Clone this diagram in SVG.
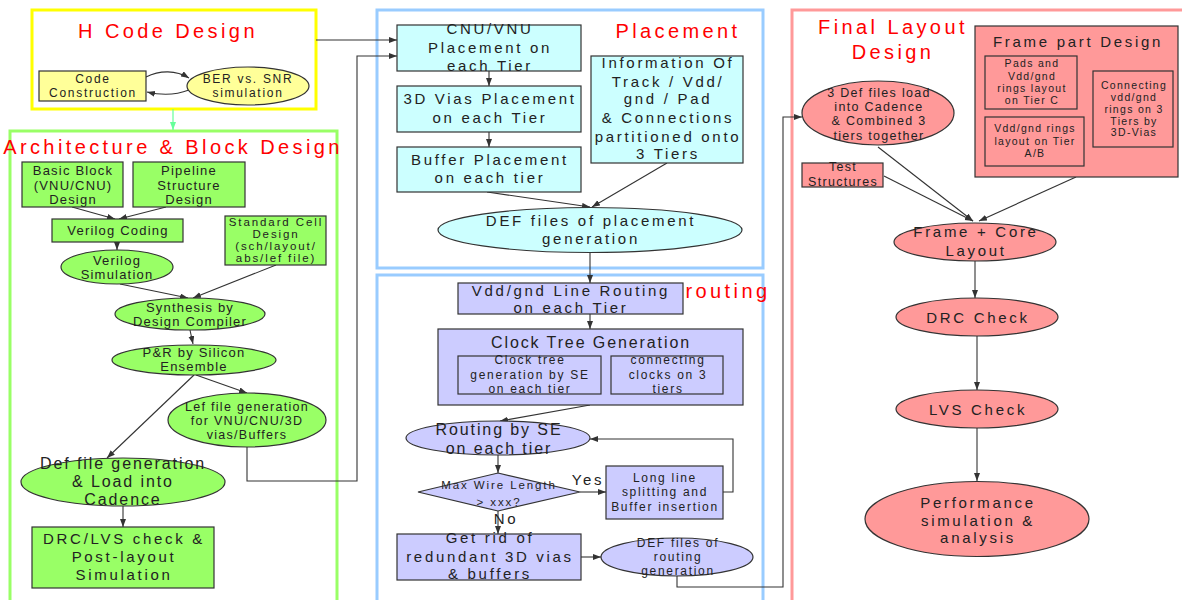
<svg xmlns="http://www.w3.org/2000/svg" width="1182" height="600" viewBox="0 0 1182 600">
<defs>
<marker id="ah" markerWidth="9" markerHeight="7" refX="8" refY="3" orient="auto" markerUnits="userSpaceOnUse"><path d="M0,0 L8,3 L0,6 z" fill="#333"/></marker>
<marker id="ahg" markerWidth="9" markerHeight="7" refX="8" refY="3" orient="auto" markerUnits="userSpaceOnUse"><path d="M0,0 L8,3 L0,6 z" fill="#66ff99"/></marker>
<style>
text{font-family:"Liberation Sans",Arial,sans-serif;fill:#222;text-anchor:middle}
.title{font-size:20px;fill:#ff0000;letter-spacing:3.4px}
.sec{fill:none;stroke-width:3}
.nd{stroke:#333;stroke-width:1.2}
.yel{fill:#ffff99}
.grn{fill:#99ff66}
.cyn{fill:#ccffff}
.lav{fill:#ccccff}
.pnk{fill:#ff9999}
.c{fill:none;stroke:#333;stroke-width:1.1;marker-end:url(#ah)}
.cn{fill:none;stroke:#333;stroke-width:1.1}
.f10{font-size:10.5px;letter-spacing:1.3px}
.f11{font-size:11.5px;letter-spacing:1.9px}
.f12{font-size:12px;letter-spacing:1.7px}
.f125{font-size:12.5px;letter-spacing:1.3px}
.f13{font-size:13px;letter-spacing:1.2px}
.f15{font-size:15px;letter-spacing:2.7px}
.f16{font-size:16px;letter-spacing:1.9px}
</style>
</defs>
<rect width="1182" height="600" fill="#ffffff"/>
<g id="sections">
<rect class="sec" x="32" y="10" width="284" height="99" stroke="#ffff00" stroke-width="3.5"/>
<rect class="sec" x="10" y="131" width="327" height="480" stroke="#99ff66"/>
<rect class="sec" x="377" y="10" width="386" height="258" stroke="#99ccff"/>
<rect class="sec" x="377" y="275" width="386" height="340" stroke="#99ccff"/>
<rect class="sec" x="792" y="10" width="400" height="600" stroke="#ff9999"/>
<text class="title" x="168" y="38">H Code Design</text>
<text class="title" x="173" y="154" letter-spacing="3.2">Architecture &amp; Block Design</text>
<text class="title" x="678" y="38" letter-spacing="4">Placement</text>
<text class="title" x="728" y="298" letter-spacing="3">routing</text>
<text class="title" x="893" y="34" letter-spacing="3.5">Final Layout</text>
<text class="title" x="893" y="59" letter-spacing="4">Design</text>
</g>
<g id="connectors">
<path class="cn" d="M146,77 C160,70 176,70 189,78" marker-end="url(#ah)"/>
<path class="cn" d="M189,90 C176,95 160,95 147,92" marker-end="url(#ah)"/>
<path d="M173,109 V130" stroke="#66ff99" stroke-width="1.2" fill="none" marker-end="url(#ahg)"/>
<path class="c" d="M316,40 H397"/>
<path class="c" d="M247,447 V481 H357 V56 H397"/>
<path class="c" d="M72,207 L115,219"/>
<path class="c" d="M166,207 L119,219"/>
<path class="c" d="M117,242 V250"/>
<path class="c" d="M120,284 L188,298"/>
<path class="c" d="M276,265 L193,298"/>
<path class="c" d="M190,330 L193,344"/>
<path class="c" d="M194,375 L107,458"/>
<path class="c" d="M196,375 L247,393"/>
<path class="c" d="M123,506 V527"/>
<path class="c" d="M489,71 V86"/>
<path class="c" d="M489,132 V147"/>
<path class="c" d="M487,192 L590,207"/>
<path class="c" d="M667,163 L592,207"/>
<path class="c" d="M590,253 V283"/>
<path class="c" d="M590,314 V329"/>
<path class="c" d="M611,375 H601"/>
<path class="c" d="M590,405 L500,421"/>
<path class="c" d="M498,455 V473"/>
<path class="c" d="M580,492 H606"/>
<path class="c" d="M723,492 H733 V439 H590"/>
<path class="c" d="M498,511 V534"/>
<path class="c" d="M581,557 H601"/>
<path class="c" d="M677,576 V587 H783 V117 H802"/>
<path class="c" d="M1077,82 L1093,106"/>
<path class="c" d="M1085,140 L1093,109"/>
<path class="c" d="M878,147 L973,221"/>
<path class="c" d="M884,176 L973,221"/>
<path class="c" d="M1076,177 L979,221"/>
<path class="c" d="M975,261 V298"/>
<path class="c" d="M977,336 V390"/>
<path class="c" d="M977,428 V481"/>
</g>
<g id="code-construction"><rect class="nd yel" x="39" y="71" width="107" height="30"/><text class="f12" x="93" y="83" letter-spacing="1.3">Code</text><text class="f12" x="93" y="97" letter-spacing="1.3">Construction</text></g>
<g id="ber-snr"><ellipse class="nd yel" cx="248" cy="86" rx="61" ry="19"/><text class="f12" x="248" y="83" letter-spacing="2">BER vs. SNR</text><text class="f12" x="248" y="97" letter-spacing="2">simulation</text></g>
<g id="basic-block"><rect class="nd grn" x="22" y="162" width="101" height="45"/><text class="f13" x="73" y="175">Basic Block</text><text class="f13" x="73" y="190">(VNU/CNU)</text><text class="f13" x="73" y="204">Design</text></g>
<g id="pipeline"><rect class="nd grn" x="133" y="162" width="112" height="45"/><text class="f13" x="189" y="175">Pipeline</text><text class="f13" x="189" y="190">Structure</text><text class="f13" x="189" y="204">Design</text></g>
<g id="verilog-coding"><rect class="nd grn" x="52" y="219" width="131" height="23"/><text class="f13" x="118" y="235">Verilog Coding</text></g>
<g id="standard-cell"><rect class="nd grn" x="225" y="216" width="101" height="49"/><text class="f11" x="276" y="226" font-size="11" letter-spacing="1.2">Standard Cell</text><text class="f11" x="276" y="238" font-size="11" letter-spacing="1.2">Design</text><text class="f11" x="276" y="250" font-size="11" letter-spacing="1.2">(sch/layout/</text><text class="f11" x="276" y="262" font-size="11" letter-spacing="1.2">abs/lef file)</text></g>
<g id="verilog-sim"><ellipse class="nd grn" cx="117" cy="267" rx="56" ry="17"/><text class="f13" x="117" y="265">Verilog</text><text class="f13" x="117" y="279">Simulation</text></g>
<g id="synthesis"><ellipse class="nd grn" cx="190" cy="314" rx="75" ry="16"/><text class="f13" x="190" y="312" letter-spacing="1.5">Synthesis by</text><text class="f13" x="190" y="326" letter-spacing="1.5">Design Compiler</text></g>
<g id="pr-se"><ellipse class="nd grn" cx="194" cy="360" rx="82" ry="15"/><text class="f13" x="194" y="357" letter-spacing="1">P&amp;R by Silicon</text><text class="f13" x="194" y="371" letter-spacing="1">Ensemble</text></g>
<g id="lef-gen"><ellipse class="nd grn" cx="247" cy="420" rx="79" ry="27"/><text class="f125" x="247" y="411">Lef file generation</text><text class="f125" x="247" y="425">for VNU/CNU/3D</text><text class="f125" x="247" y="439">vias/Buffers</text></g>
<g id="def-gen"><ellipse class="nd grn" cx="123" cy="482" rx="102" ry="24"/><text class="f16" x="123" y="469">Def file generation</text><text class="f16" x="123" y="487">&amp; Load into</text><text class="f16" x="123" y="505">Cadence</text></g>
<g id="drc-lvs-post"><rect class="nd grn" x="32" y="527" width="182" height="61"/><text class="f15" x="124" y="544" letter-spacing="2.8">DRC/LVS check &amp;</text><text class="f15" x="124" y="562" letter-spacing="2.8">Post-layout</text><text class="f15" x="124" y="580" letter-spacing="2.8">Simulation</text></g>
<g id="cnu-vnu"><rect class="nd cyn" x="397" y="25" width="184" height="46"/><text class="f15" x="490" y="34">CNU/VNU</text><text class="f15" x="490" y="53">Placement on</text><text class="f15" x="490" y="71">each Tier</text></g>
<g id="vias-3d"><rect class="nd cyn" x="397" y="86" width="184" height="46"/><text class="f15" x="490" y="104">3D Vias Placement</text><text class="f15" x="490" y="123">on each Tier</text></g>
<g id="buffer-placement"><rect class="nd cyn" x="397" y="147" width="184" height="45"/><text class="f15" x="490" y="165">Buffer Placement</text><text class="f15" x="490" y="183">on each tier</text></g>
<g id="information"><rect class="nd cyn" x="591" y="56" width="152" height="107"/><text class="f15" x="668" y="68" letter-spacing="2.5">Information Of</text><text class="f15" x="668" y="87" letter-spacing="2.5">Track / Vdd/</text><text class="f15" x="668" y="104" letter-spacing="2.5">gnd / Pad</text><text class="f15" x="668" y="123" letter-spacing="2.5">&amp; Connections</text><text class="f15" x="668" y="142" letter-spacing="2.5">partitioned onto</text><text class="f15" x="668" y="159" letter-spacing="2.5">3 Tiers</text></g>
<g id="def-placement"><ellipse class="nd cyn" cx="590" cy="230" rx="152" ry="22.5"/><text class="f15" x="591" y="226" letter-spacing="2.3">DEF files of placement</text><text class="f15" x="591" y="244" letter-spacing="2.3">generation</text></g>
<g id="vdd-routing"><rect class="nd lav" x="458" y="283" width="225" height="31"/><text class="f15" x="571" y="296" letter-spacing="2.5">Vdd/gnd Line Routing</text><text class="f15" x="571" y="313" letter-spacing="2.5">on each Tier</text></g>
<g id="clock-tree"><rect class="nd lav" x="438" y="329" width="305" height="76"/><text class="f16" x="591" y="348" letter-spacing="2">Clock Tree Generation</text>
<rect class="nd lav" x="458" y="356" width="143" height="38"/><text class="f12" x="530" y="364">Clock tree</text><text class="f12" x="530" y="379">generation by SE</text><text class="f12" x="530" y="393">on each tier</text>
<rect class="nd lav" x="611" y="356" width="112" height="38"/><text class="f12" x="668" y="364">connecting</text><text class="f12" x="668" y="379">clocks on 3</text><text class="f12" x="668" y="393">tiers</text></g>
<g id="routing-se"><ellipse class="nd lav" cx="498" cy="438" rx="92" ry="17"/><text class="f16" x="499" y="435" letter-spacing="2.1">Routing by SE</text><text class="f16" x="499" y="454" letter-spacing="2.1">on each tier</text></g>
<g id="max-wire"><polygon class="nd lav" points="498,473 580,492 498,511 418,492"/><text class="f11" x="499" y="489">Max Wire Length</text><text class="f11" x="499" y="506">&gt; xxx?</text></g>
<g id="labels-yes-no"><text class="f15" x="588" y="485" letter-spacing="3">Yes</text><text class="f15" x="506" y="524" letter-spacing="3">No</text></g>
<g id="long-line"><rect class="nd lav" x="606" y="466" width="117" height="53"/><text class="f12" x="665" y="482">Long line</text><text class="f12" x="665" y="496">splitting and</text><text class="f12" x="665" y="511">Buffer insertion</text></g>
<g id="get-rid"><rect class="nd lav" x="397" y="534" width="184" height="46"/><text class="f15" x="490" y="543" letter-spacing="2.5">Get rid of</text><text class="f15" x="490" y="562" letter-spacing="2.5">redundant 3D vias</text><text class="f15" x="490" y="579" letter-spacing="2.5">&amp; buffers</text></g>
<g id="def-routing"><ellipse class="nd lav" cx="677" cy="557" rx="76" ry="19"/><text class="f12" x="678" y="547" letter-spacing="1.6">DEF files of</text><text class="f12" x="678" y="561" letter-spacing="1.6">routing</text><text class="f12" x="678" y="575" letter-spacing="1.6">generation</text></g>
<g id="three-def"><ellipse class="nd pnk" cx="878" cy="113" rx="76" ry="32"/><text class="f125" x="879" y="97">3 Def files load</text><text class="f125" x="879" y="111">into Cadence</text><text class="f125" x="879" y="125">&amp; Combined 3</text><text class="f125" x="879" y="140">tiers together</text></g>
<g id="test-structures"><rect class="nd pnk" x="802" y="163" width="81" height="24"/><text class="f125" x="843" y="171" letter-spacing="1.4">Test</text><text class="f125" x="843" y="186" letter-spacing="1.4">Structures</text></g>
<g id="frame-part"><rect class="nd pnk" x="975" y="26" width="203" height="151"/><text class="f15" x="1078" y="47" letter-spacing="2.6">Frame part Design</text>
<rect class="nd pnk" x="985" y="56" width="92" height="53"/><text class="f10" x="1032" y="67">Pads and</text><text class="f10" x="1032" y="80">Vdd/gnd</text><text class="f10" x="1032" y="92">rings  layout</text><text class="f10" x="1032" y="104">on Tier C</text>
<rect class="nd pnk" x="985" y="117" width="99" height="49"/><text class="f10" x="1035" y="132">Vdd/gnd rings</text><text class="f10" x="1035" y="145">layout on Tier</text><text class="f10" x="1035" y="157">A/B</text>
<rect class="nd pnk" x="1093" y="71" width="80" height="76"/><text class="f10" x="1134" y="89">Connecting</text><text class="f10" x="1134" y="101">vdd/gnd</text><text class="f10" x="1134" y="113">rings on 3</text><text class="f10" x="1134" y="125">Tiers by</text><text class="f10" x="1134" y="136">3D-Vias</text></g>
<g id="frame-core"><ellipse class="nd pnk" cx="975" cy="242" rx="81" ry="19"/><text class="f15" x="976" y="237">Frame + Core</text><text class="f15" x="976" y="256">Layout</text></g>
<g id="drc-check"><ellipse class="nd pnk" cx="977" cy="317" rx="81" ry="19"/><text class="f15" x="978" y="322.5" letter-spacing="3">DRC Check</text></g>
<g id="lvs-check"><ellipse class="nd pnk" cx="977" cy="409" rx="81" ry="19"/><text class="f15" x="978" y="414.5" letter-spacing="3">LVS Check</text></g>
<g id="performance"><ellipse class="nd pnk" cx="977" cy="519" rx="112" ry="37.5"/><text class="f15" x="978" y="507.5">Performance</text><text class="f15" x="978" y="525.5">simulation &amp;</text><text class="f15" x="978" y="542.5">analysis</text></g>
</svg>
